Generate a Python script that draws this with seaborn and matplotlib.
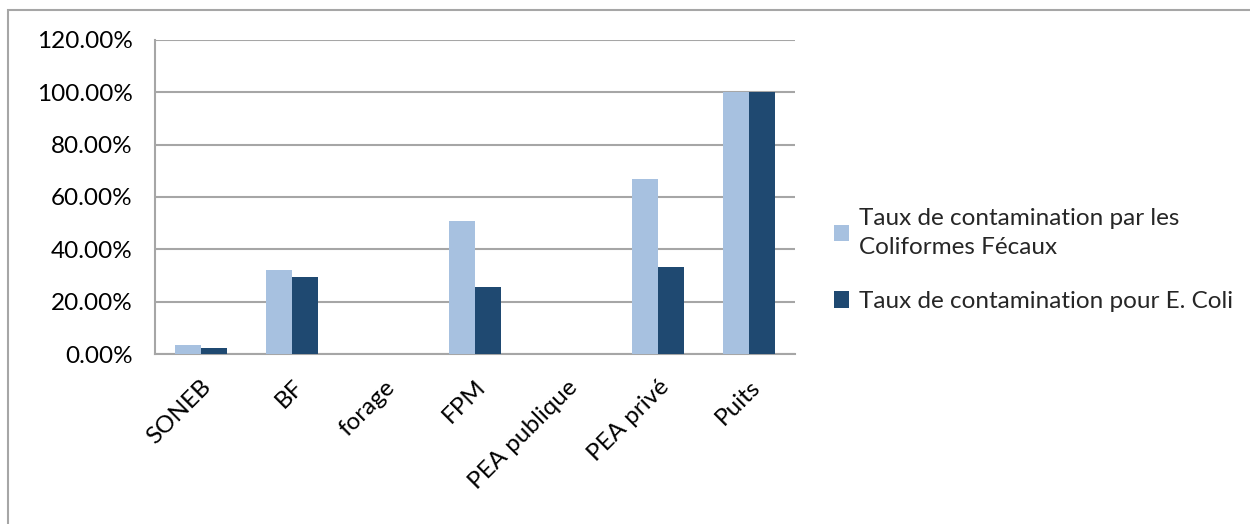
import numpy as np
import pandas as pd
import matplotlib.pyplot as plt
import matplotlib.ticker as mtick
from matplotlib.patches import Rectangle
import seaborn as sns

categories = ['SONEB', 'BF', 'forage', 'FPM', 'PEA publique', 'PEA privé', 'Puits']
coliformes = [0.034, 0.321, 0.0, 0.508, 0.0, 0.667, 1.0]
e_coli = [0.022, 0.294, 0.0, 0.257, 0.0, 0.333, 1.0]
series = ['Taux de contamination par les\nColiformes Fécaux',
          'Taux de contamination pour E. Coli']

df = pd.DataFrame({
    'Site': categories * 2,
    'Taux': coliformes + e_coli,
    'Serie': [series[0]] * len(categories) + [series[1]] * len(categories),
})

sns.set_theme(style='white')
plt.rcParams['font.family'] = ['Lato', 'DejaVu Sans']

grid_col = '#a6a6a6'
fs = 17.5
fig = plt.figure(figsize=(12.5, 5.24), dpi=100)
ax = fig.add_axes([0.124, 0.3244, 0.512, 0.5993])

# outer chart frame (top and left visible)
fig.add_artist(Rectangle((8 / 1250, -0.1), 1.2, 1 - 10 / 524 + 0.1,
                         transform=fig.transFigure, fill=False,
                         edgecolor=grid_col, linewidth=1.5))

sns.barplot(data=df, x='Site', y='Taux', hue='Serie', order=categories,
            hue_order=series, palette=['#a7c1e0', '#1f4971'],
            width=0.57, saturation=1, errorbar=None, linewidth=0,
            ax=ax, zorder=3)

ax.set_ylim(0, 1.2)
ax.set_xlim(-0.5, len(categories) - 0.5)
ax.set_yticks(np.arange(0, 1.21, 0.2))
ax.yaxis.set_major_formatter(mtick.PercentFormatter(1.0, decimals=2))
ax.yaxis.grid(True, color=grid_col, linewidth=1.5, zorder=0)
ax.set_axisbelow(True)

ax.set_xticks(np.arange(-0.5, len(categories), 1), minor=True)
ax.tick_params(axis='x', which='major', length=0, pad=16)
ax.tick_params(axis='x', which='minor', length=8, width=1.5, color=grid_col, direction='out')
ax.tick_params(axis='y', length=8, width=1.5, color=grid_col, direction='out', pad=8)
plt.setp(ax.get_xticklabels(), rotation=45, ha='right', rotation_mode='anchor')
for lab in ax.get_xticklabels() + ax.get_yticklabels():
    lab.set_fontsize(fs)
    lab.set_color('black')

for s in ['top', 'right']:
    ax.spines[s].set_visible(False)
for s in ['left', 'bottom']:
    ax.spines[s].set_color(grid_col)
    ax.spines[s].set_linewidth(1.5)

ax.set_xlabel('')
ax.set_ylabel('')

leg = ax.legend(loc='center left', bbox_to_anchor=(1.045, 0.30), frameon=False,
                fontsize=fs, handlelength=0.65, handleheight=0.65,
                handletextpad=0.4, labelspacing=1.35, borderaxespad=0)
for t in leg.get_texts():
    t.set_linespacing(1.5)

fig.savefig('out.png', dpi=100)
